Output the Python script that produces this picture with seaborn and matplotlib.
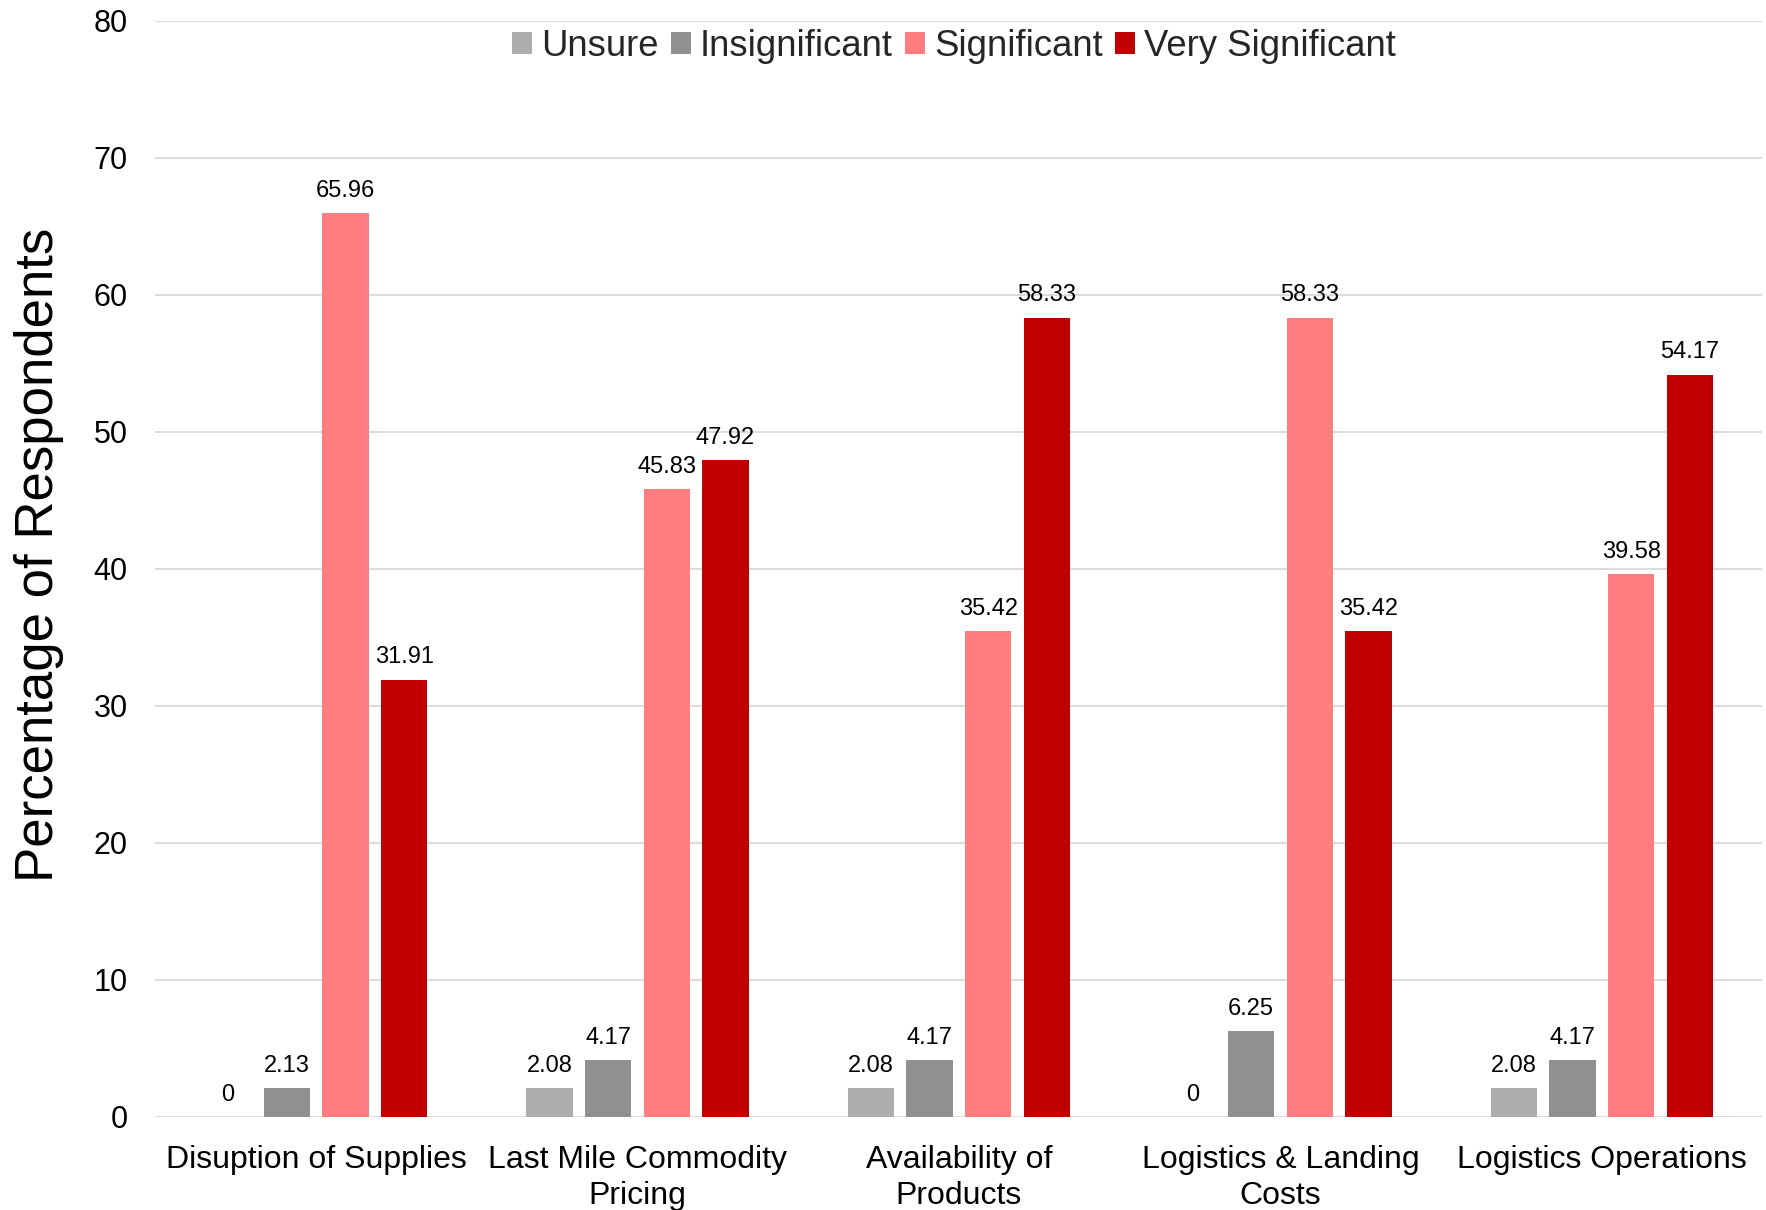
import matplotlib
matplotlib.use("Agg")
import matplotlib.pyplot as plt
import seaborn as sns
import pandas as pd

# Survey results: share of respondents rating each supply-chain impact
categories = [
    "Disuption of Supplies",
    "Last Mile Commodity\nPricing",
    "Availability of\nProducts",
    "Logistics & Landing\nCosts",
    "Logistics Operations",
]
levels = ["Unsure", "Insignificant", "Significant", "Very Significant"]
unsure = [0, 2.08, 2.08, 0, 2.08]
insignificant = [2.13, 4.17, 4.17, 6.25, 4.17]
significant = [65.96, 45.83, 35.42, 58.33, 39.58]
very_significant = [31.91, 47.92, 58.33, 35.42, 54.17]
y_ticks = [0, 10, 20, 30, 40, 50, 60, 70, 80]

colors = ["#ADADAD", "#909090", "#FF7C80", "#C00000"]

series = [unsure, insignificant, significant, very_significant]
rows = []
for level, vals in zip(levels, series):
    for cat, v in zip(categories, vals):
        rows.append({"category": cat, "level": level, "value": v})
df = pd.DataFrame(rows)

sns.set_theme(style="white")
plt.rcParams["font.family"] = ["Liberation Sans", "DejaVu Sans"]

fig = plt.figure(figsize=(17.66, 12.10), dpi=100)
ax = fig.add_axes([0.088, 0.077, 0.910, 0.906])

sns.barplot(
    data=df, x="category", y="value", hue="level",
    order=categories, hue_order=levels, palette=colors,
    width=0.73, gap=0.21, saturation=1, errorbar=None,
    linewidth=0, ax=ax,
)

for container in ax.containers:
    labels = [f"{v:g}" for v in container.datavalues]
    ax.bar_label(container, labels=labels, padding=8, fontsize=17, color="black")

ax.set_ylim(0, 80)
ax.set_yticks(y_ticks)
ax.set_xlim(-0.5, len(categories) - 0.5)
ax.set_axisbelow(True)
ax.yaxis.grid(True, color="#D9D9D9", linewidth=1.3)
ax.xaxis.grid(False)
for side in ["top", "right", "left", "bottom"]:
    ax.spines[side].set_visible(False)

ax.tick_params(axis="y", length=0, pad=20, labelsize=22, labelcolor="black")
ax.tick_params(axis="x", length=0, pad=20, labelsize=23, labelcolor="black")
for lbl in ax.get_xticklabels():
    lbl.set_linespacing(1.27)

ax.set_xlabel("")
ax.set_ylabel("Percentage of Respondents", fontsize=38, color="black")
ax.yaxis.set_label_coords(-0.057, 0.513)

handles, texts = ax.get_legend_handles_labels()
ax.legend(
    handles, texts, loc="center", bbox_to_anchor=(0.497, 0.976),
    ncol=4, frameon=False, fontsize=26.3,
    handlelength=0.55, handleheight=0.55, handletextpad=0.25,
    columnspacing=0.33, borderaxespad=0,
)

fig.savefig("out.png", dpi=100)
